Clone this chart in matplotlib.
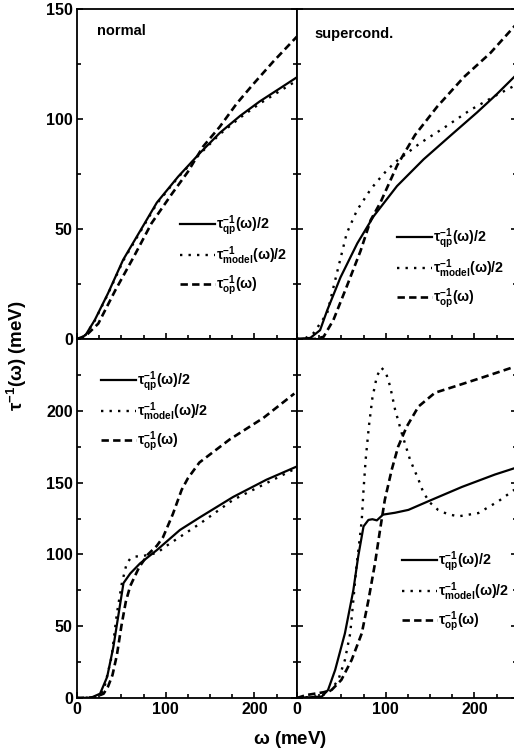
import matplotlib
matplotlib.use("Agg")
import matplotlib.pyplot as plt
from matplotlib.ticker import MultipleLocator

plt.rcParams['font.family'] = ['Liberation Sans', 'DejaVu Sans']
plt.rcParams['font.weight'] = 'bold'
plt.rcParams['mathtext.fontset'] = 'custom'
plt.rcParams['mathtext.rm'] = 'Liberation Sans:bold'
plt.rcParams['mathtext.it'] = 'Liberation Sans:bold'
plt.rcParams['mathtext.bf'] = 'Liberation Sans:bold'
plt.rcParams['mathtext.default'] = 'regular'

# ---- data: top-left (normal) ----
n_qp_w = [0, 5, 10, 20, 35, 52, 71, 90, 114, 138.7, 161, 183.8, 206, 229, 248]
n_qp_t = [0, 0.5, 2, 8.6, 20.8, 36, 49, 62, 73.8, 84.6, 93.7, 101.4, 108, 114, 119]
n_mod_w = [0, 5, 10, 20, 35, 52, 71, 90, 114, 138.7, 161, 183.8, 206, 229, 248]
n_mod_t = [0, 0.5, 2, 8.3, 20.5, 35.5, 48.5, 61.5, 73.5, 84.2, 93.1, 100.6, 107, 112.8, 117.5]
n_op_w = [0, 10, 24, 43, 63.5, 84, 107, 125, 142, 161, 180, 199, 221, 248]
n_op_t = [0, 1.5, 7, 22, 37, 52.6, 66, 76, 87.4, 96.5, 107, 116, 126, 137.5]

# ---- data: top-right (supercond.) ----
s_qp_w = [0, 15, 26, 34, 49, 68, 86.4, 112.7, 142.8, 172.9, 203, 225.5, 247]
s_qp_t = [0, 0.5, 4, 13, 28, 43.5, 55.8, 69.5, 81.7, 92.4, 103, 111.4, 120]
s_mod_w = [0, 10, 18.5, 34, 45, 56, 67.6, 83, 90, 102, 112.7, 138.7, 165, 195, 225.5, 247]
s_mod_t = [0, 0.5, 2.6, 11.7, 30, 48, 58.5, 68, 71.5, 77, 81, 89, 95.8, 104, 111, 115.5]
s_op_w = [0, 20, 30, 41, 56, 71.6, 83, 94, 113, 133, 158, 188, 218, 247]
s_op_t = [0, 0, 1, 8.6, 23.8, 40, 54, 62, 79, 92.7, 105.6, 119, 130, 143]

# ---- data: bottom-left ----
bl_qp_w = [0, 15, 26, 34, 41, 47, 52.4, 60, 71, 90, 116, 139, 176, 213.5, 247]
bl_qp_t = [0, 0, 3, 14.7, 35.6, 59, 80, 86.7, 93.7, 103, 117, 126, 140, 152, 161]
bl_mod_w = [0, 20, 30, 39, 45, 50.6, 56, 60, 66, 75, 90, 101, 139, 176, 213.5, 247]
bl_mod_t = [0, 0.5, 5, 28.6, 59, 80, 93.7, 97, 98.5, 99, 101, 106, 121.6, 138, 149.6, 160]
bl_op_w = [0, 20, 30, 35, 40, 45, 50, 55, 60, 70, 80, 90, 97, 108, 118, 125, 138, 172, 210, 245]
bl_op_t = [0, 0.5, 3, 8, 16, 30, 50, 67, 78, 91, 100, 106, 112, 128, 145, 153, 164, 180, 195, 212]

# ---- data: bottom-right ----
br_qp_w = [0, 28, 35, 43, 54, 63.5, 69, 75, 80.5, 85, 90, 97, 110.5, 125.6, 148, 186, 223, 245]
br_qp_t = [0, 1, 5.6, 19.5, 45, 75, 98.6, 119.5, 124, 124.5, 123.7, 127.7, 129, 131, 137, 147, 155.6, 160]
br_mod_w = [0, 20, 35, 46.6, 54, 60, 63.5, 67, 71, 73, 75, 77.4, 81, 85, 90, 95, 100, 105,
            110.5, 118, 127.4, 137, 142.5, 150, 159, 170, 182, 204.5, 227, 245]
br_mod_t = [0, 1, 3, 12.6, 26.5, 45, 68, 91.6, 112.5, 124, 145, 166, 189, 209, 224, 230, 227, 217,
            201, 184.6, 166, 152, 143, 136, 131, 128, 126.5, 128.8, 137, 145]
br_op_w = [0, 10, 20, 30, 39, 50, 61.6, 73, 80.5, 88, 93.6, 99, 106.8, 114, 123.7, 137, 155.6, 178, 208, 242]
br_op_t = [0, 2, 3, 4, 5.6, 12.6, 26.5, 45, 68, 94, 117, 138, 159, 175, 189, 203, 212.6, 217, 223, 230]

labels = [r'$\tau^{-1}_{qp}(\omega)/2$', r'$\tau^{-1}_{model}(\omega)/2$', r'$\tau^{-1}_{op}(\omega)$']
panel_titles = ['normal', 'supercond.']

W, H = 514, 753
fig = plt.figure(figsize=(W / 100, H / 100), dpi=100)

def frac(x0, y0, x1, y1):
    return [x0 / W, 1 - y1 / H, (x1 - x0) / W, (y1 - y0) / H]

axes = {
    'tl': fig.add_axes(frac(77, 9, 297, 339)),
    'tr': fig.add_axes(frac(297, 9, 517, 339)),
    'bl': fig.add_axes(frac(77, 339, 297, 698)),
    'br': fig.add_axes(frac(297, 339, 517, 698)),
}

panels = {
    'tl': (n_qp_w, n_qp_t, n_mod_w, n_mod_t, n_op_w, n_op_t),
    'tr': (s_qp_w, s_qp_t, s_mod_w, s_mod_t, s_op_w, s_op_t),
    'bl': (bl_qp_w, bl_qp_t, bl_mod_w, bl_mod_t, bl_op_w, bl_op_t),
    'br': (br_qp_w, br_qp_t, br_mod_w, br_mod_t, br_op_w, br_op_t),
}

legend_anchor = {'tl': (0.468, 0.2515), 'tr': (0.4545, 0.212), 'bl': (0.109, 0.797), 'br': (0.477, 0.295)}

for key, ax in axes.items():
    qw, qt, mw, mt, ow, ot = panels[key]
    ax.plot(qw, qt, color='black', lw=1.6, ls='-', label=labels[0])
    ax.plot(mw, mt, color='black', lw=1.7, ls=(0, (1, 2.6)), label=labels[1])
    ax.plot(ow, ot, color='black', lw=1.9, ls=(0, (2.8, 1.6)), label=labels[2])
    ax.set_xlim(0, 248)
    if key in ('tl', 'tr'):
        ax.set_ylim(0, 150)
    else:
        ax.set_ylim(0, 250)
    ax.yaxis.set_major_locator(MultipleLocator(50))
    ax.yaxis.set_minor_locator(MultipleLocator(25))
    ax.xaxis.set_major_locator(MultipleLocator(100))
    ax.xaxis.set_minor_locator(MultipleLocator(25))
    ax.tick_params(which='both', direction='in', left=True, right=True, top=False, bottom=True,
                   labelsize=11.5, width=1.2, pad=3)
    ax.tick_params(which='major', length=4)
    ax.tick_params(which='minor', length=3)
    for sp in ax.spines.values():
        sp.set_linewidth(1.3)
    if key in ('tl', 'tr'):
        ax.tick_params(labelbottom=False)
    if key in ('tr', 'br'):
        ax.tick_params(labelleft=False)
    if key == 'bl':
        ax.set_yticks([0, 50, 100, 150, 200])
    for lab in ax.get_xticklabels() + ax.get_yticklabels():
        lab.set_fontweight('bold')
    ax.legend(loc='center left', bbox_to_anchor=legend_anchor[key], frameon=False,
              fontsize=10.3, handlelength=2.45, handletextpad=0.1, labelspacing=0.45,
              borderpad=0, borderaxespad=0)

axes['tl'].text(0.09, 0.955, panel_titles[0], transform=axes['tl'].transAxes,
                fontsize=10.5, fontweight='bold', va='top', ha='left')
axes['tr'].text(0.08, 0.945, panel_titles[1], transform=axes['tr'].transAxes,
                fontsize=10.5, fontweight='bold', va='top', ha='left')

fig.text(17 / W, 1 - 356 / H, r'$\tau^{-1}(\omega)$ (meV)', rotation=90, ha='center', va='center',
         fontsize=13.5, fontweight='bold')
fig.text(290 / W, 1 - 740 / H, r'$\omega$ (meV)', ha='center', va='center',
         fontsize=13.5, fontweight='bold')

fig.savefig('out.png', dpi=100)
